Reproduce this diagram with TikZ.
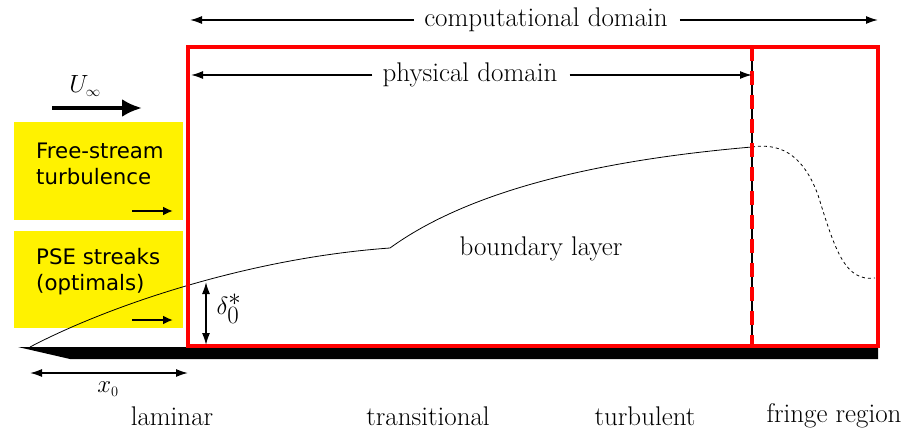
\documentclass[tikz,border=0pt]{standalone}
\usepackage{fontspec}
\newfontfamily\sansf{DejaVu Sans}
\usetikzlibrary{arrows.meta}
\begin{document}
\begin{tikzpicture}[x=1pt,y=-1pt,
  lbl/.style={font=\fontsize{27}{31}\selectfont, inner sep=0pt},
  ybox/.style={fill=yellow, draw=none, minimum width=169pt, anchor=north west, inner sep=0pt},
  sans/.style={font=\sansf\fontsize{21.3}{25}\selectfont, align=left, inner sep=0pt},
  dimarr/.style={line width=1.5pt, {Latex[length=12pt,width=8pt]}-{Latex[length=12pt,width=8pt]}},
  harr/.style={line width=1.5pt, -{Latex[length=12pt,width=8pt]}},
  smallarr/.style={line width=2.2pt, -{Latex[length=10pt,width=9pt]}}
]
\useasboundingbox (0,0) rectangle (909,430);
% plate
\fill (18,347) -- (878,347) -- (878,359) -- (70,359) -- cycle;
% yellow boxes
\node[ybox, minimum height=98pt] (b1) at (14,122) {};
\node[ybox, minimum height=97pt] (b2) at (14,231) {};
\node[sans, anchor=west] (t1) at (36,164) {Free-stream\\[1pt]turbulence};
\node[sans, anchor=west] (t2) at (36,272) {PSE streaks\\[1pt](optimals)};
\coordinate (a1s) at (132,211); \coordinate (a1e) at (173,211);
\coordinate (a2s) at (132,320); \coordinate (a2e) at (173,320);
\draw[smallarr] (a1s) -- (a1e);
\draw[smallarr] (a2s) -- (a2e);
% U infinity
\node[lbl] (u) at (85,86) {$U_{\scriptscriptstyle\infty}$};
\coordinate (us) at (52,108); \coordinate (ue) at (142,108);
\draw[line width=4.5pt, -{Latex[length=20pt,width=18pt]}] (us) -- (ue);
% boundary layer curve
\draw[line width=0.8pt] (30,347) .. controls (110,305) and (250,258) .. (390,248)
  .. controls (470,190) and (600,160) .. (752,147);
\draw[line width=0.8pt, dash pattern=on 3pt off 3pt] (752,147) .. controls (785,142) and (805,160) .. (818,195)
  .. controls (835,250) and (845,282) .. (875,278);
% red rectangle
\draw[red, line width=4pt] (188,47) rectangle (878,346);
% vertical divider
\coordinate (vt) at (752,47); \coordinate (vb) at (752,346);
\draw[line width=1.2pt] (vt) -- (vb);
\draw[red, line width=3.5pt, dash pattern=on 14pt off 10pt] (vt) -- (vb);
% computational domain
\node[lbl] (cd) at (546,20) {computational domain};
\coordinate (cdl) at (190,20); \coordinate (cdr) at (878,20);
\draw[harr] (cd.west) ++(-10,0) -- (cdl);
\draw[harr] (cd.east) ++(12,0) -- (cdr);
% physical domain
\node[lbl] (pd) at (470,75) {physical domain};
\coordinate (pdl) at (191,75); \coordinate (pdr) at (752,75);
\draw[harr] (pd.west) ++(-10,0) -- (pdl);
\draw[harr] (pd.east) ++(12,0) -- (pdr);
% delta
\coordinate (dt) at (206,282); \coordinate (db) at (206,345);
\draw[dimarr] (dt) -- (db);
\node[font=\fontsize{34}{38}\selectfont, inner sep=0pt] (dl) at (229,309) {$\delta_0^*$};
% x0
\coordinate (xl) at (30,373); \coordinate (xr) at (188,373);
\draw[dimarr] (xl) -- (xr);
\node[lbl] (xlab) at (108,389) {$x_{\scriptscriptstyle 0}$};
% labels
\node[lbl] (bl) at (541,249) {boundary layer};
\node[lbl] (lam) at (172,416) {laminar};
\node[lbl] (tra) at (428,416) {transitional};
\node[lbl] (tur) at (645,416) {turbulent};
\node[lbl] (fr) at (834,416) {fringe region};
\end{tikzpicture}
\end{document}
